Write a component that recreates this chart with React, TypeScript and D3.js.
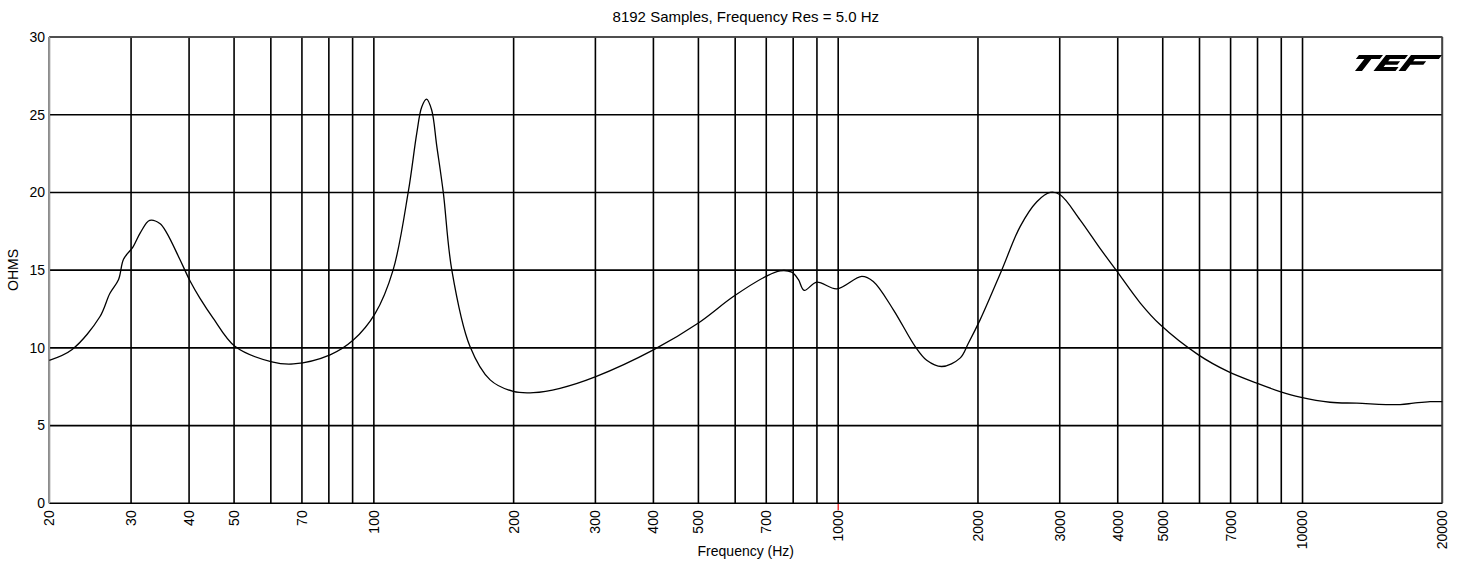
import { useMemo } from 'react'
import { scaleLog, scaleLinear, line, curveCatmullRom } from 'd3'

// impedance sweep
const freqs = [
  20, 22.4, 25.7, 27.0, 28.2, 28.9, 30.3, 31.4, 32.9, 34.6, 35.8, 38.2, 40.2, 42.2, 45.1, 50.2, 60.3, 67.1, 80.5,
  90.3, 100.6, 110, 118.7, 123.7, 126.8, 129.9, 133.2, 136.6, 141.1, 147.2, 161, 178, 199.6, 220.6, 251.7, 300.6,
  400, 500, 594.6, 699, 749.6, 794, 820.7, 845, 899, 993, 1124, 1190, 1315, 1464, 1551, 1671, 1830, 1907, 2021,
  2250, 2465, 2678, 2860, 3006, 3318, 3664, 3968, 4469, 4934, 5968, 6922, 7971, 8946, 9880, 11460, 13090, 16220,
  17330, 18820, 20000,
]
const ohms = [
  9.2, 9.9, 12.0, 13.5, 14.4, 15.7, 16.5, 17.4, 18.2, 18.0, 17.4, 15.7, 14.3, 13.2, 11.9, 10.1, 9.1, 8.97, 9.55,
  10.5, 12.2, 15.0, 20.1, 23.8, 25.5, 26.0, 25.3, 23.0, 20.0, 15.0, 10.1, 7.94, 7.2, 7.12, 7.4, 8.15,
  9.87, 11.6, 13.3, 14.6, 14.96, 14.87, 14.4, 13.7, 14.23, 13.8, 14.6, 14.27, 12.45, 10.1, 9.2, 8.8, 9.34, 10.3, 11.8,
  15.0, 17.8, 19.4, 20.0, 19.85, 18.24, 16.4, 15.0, 12.9, 11.5, 9.55, 8.47, 7.73, 7.19, 6.83, 6.5, 6.44, 6.35,
  6.44, 6.54, 6.54,
]

const gridFreqs = [
  20, 30, 40, 50, 60, 70, 80, 90, 100, 200, 300, 400, 500, 600, 700, 800, 900, 1000, 2000, 3000, 4000, 5000, 6000,
  7000, 8000, 9000, 10000, 20000,
]
const freqLabels = [20, 30, 40, 50, 70, 100, 200, 300, 400, 500, 700, 1000, 2000, 3000, 4000, 5000, 7000, 10000, 20000]
const ohmTicks = [0, 5, 10, 15, 20, 25, 30]

const title = '8192 Samples, Frequency Res = 5.0 Hz'
const xTitle = 'Frequency (Hz)'
const yTitle = 'OHMS'

const W = 1458
const H = 561
const margin = { left: 49.3, right: 15.7, top: 37, bottom: 57.7 }
const font = 'Liberation Sans, Arial, sans-serif'

export default function App() {
  const x = useMemo(() => scaleLog().domain([20, 20000]).range([margin.left, W - margin.right]), [])
  const y = useMemo(() => scaleLinear().domain([0, 30]).range([H - margin.bottom, margin.top]), [])

  const path = useMemo(
    () =>
      line<number>()
        .x((_, i) => x(freqs[i]))
        .y((d) => y(d))
        .curve(curveCatmullRom.alpha(0.5))(ohms) ?? '',
    [x, y]
  )

  const x0 = x(20)
  const x1 = x(20000)
  const yTop = y(30)
  const yBot = y(0)

  return (
    <svg width={W} height={H} style={{ position: 'absolute', left: 0, top: 0, background: '#fff' }} fontFamily={font}>
      <text x={(x0 + x1) / 2} y={21.5} fontSize={15} textAnchor="middle" fill="#000">
        {title}
      </text>

      {/* grid */}
      <g stroke="#000" strokeWidth={1.6}>
        {gridFreqs.map((f) => (
          <line key={'v' + f} x1={x(f)} x2={x(f)} y1={yTop} y2={yBot} />
        ))}
        {ohmTicks.map((v) => (
          <line key={'h' + v} x1={x0} x2={x1} y1={y(v)} y2={y(v)} />
        ))}
      </g>
      <line x1={x0} x2={x1} y1={yTop} y2={yTop} stroke="#555" strokeWidth={1.6} />
      <line x1={x1} x2={x1} y1={yTop} y2={yBot} stroke="#444" strokeWidth={1.6} />
      <line x1={x0} x2={x0} y1={yTop} y2={yBot} stroke="#999" strokeWidth={1.6} />
      <line x1={x(1000)} x2={x(1000)} y1={yBot + 0.8} y2={yBot + 7} stroke="#e00" strokeWidth={1.2} />

      <path d={path} fill="none" stroke="#000" strokeWidth={1.3} />

      {/* y ticks */}
      {ohmTicks.map((v) => (
        <text key={'yl' + v} x={45} y={y(v)} dy="0.35em" fontSize={14} textAnchor="end" fill="#000">
          {v}
        </text>
      ))}
      <text transform={`translate(13.3,270) rotate(-90)`} fontSize={14} textAnchor="middle" dy="0.35em" fill="#000">
        {yTitle}
      </text>

      {/* x ticks */}
      {freqLabels.map((f) => (
        <text
          key={'xl' + f}
          transform={`translate(${x(f)},${yBot + 7}) rotate(-90)`}
          fontSize={14}
          textAnchor="end"
          dy="0.35em"
          fill="#000"
        >
          {f}
        </text>
      ))}
      <text x={(x0 + x1) / 2} y={556} fontSize={14} textAnchor="middle" fill="#000">
        {xTitle}
      </text>

      {/* TEF mark */}
      <g transform="translate(1359,55) skewX(-38)" fill="#000">
        <path d="M0,0H24V4H15.5V16H8.5V4H0Z" />
        <path d="M27,0H49V4H34V6.2H46V9.8H34V12H49V16H27Z" />
        <path d="M52,0H83V4H59V6.2H72V9.8H59V16H52Z" />
      </g>
    </svg>
  )
}
